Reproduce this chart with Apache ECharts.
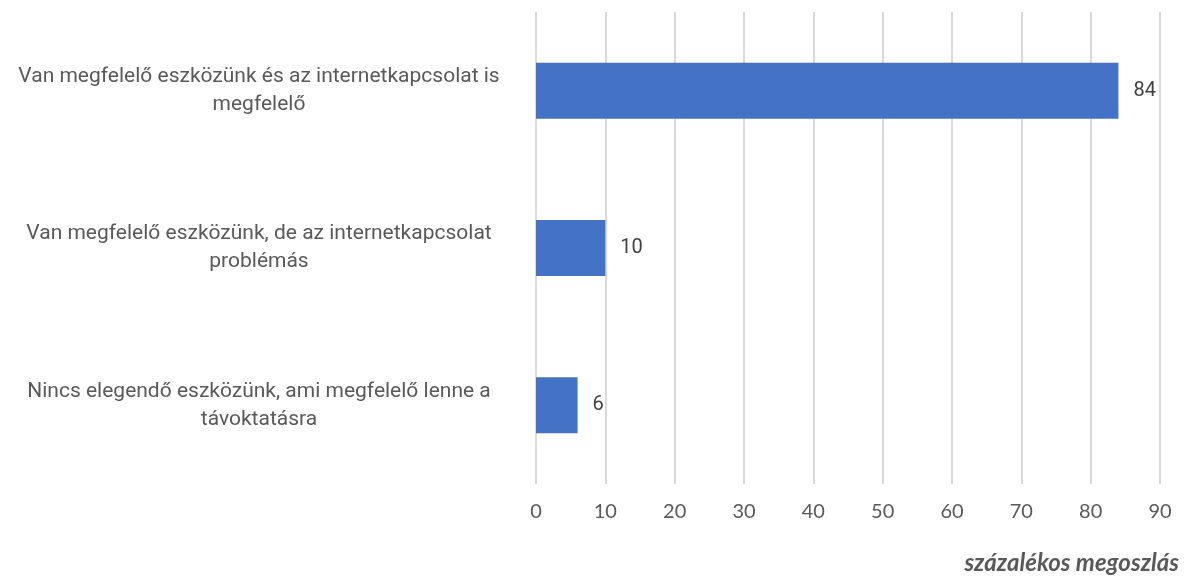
<!DOCTYPE html>
<html>
<head>
<meta charset="utf-8">
<script src="https://cdn.jsdelivr.net/npm/echarts@6/dist/echarts.min.js"></script>
<style>
  html, body { margin: 0; padding: 0; background: #fff; }
  #chart { width: 1192px; height: 584px; }
</style>
</head>
<body>
<div id="chart"></div>
<script>
// categories, top to bottom
var categories = [
  "Van megfelelő eszközünk és az internetkapcsolat is\nmegfelelő",
  "Van megfelelő eszközünk, de az internetkapcsolat\nproblémás",
  "Nincs elegendő eszközünk, ami megfelelő lenne a\ntávoktatásra"
];
var shares = [84, 10, 6];
var axisTitle = "százalékos megoszlás";

var chart = echarts.init(document.getElementById("chart"));

var option = {
  animation: false,
  title: {
    text: axisTitle,
    right: 8,
    bottom: 4,
    textStyle: {
      fontFamily: "Lato",
      fontStyle: "italic",
      fontWeight: "bold",
      fontSize: 24,
      color: "#595959"
    }
  },
  grid: {
    left: 536,
    right: 32,
    top: 12,
    bottom: 100
  },
  xAxis: {
    type: "value",
    min: 0,
    max: 90,
    interval: 10,
    axisLine: { show: false },
    axisTick: { show: false },
    splitLine: { lineStyle: { color: "#d9d9d9", width: 2 } },
    axisLabel: {
      margin: 18,
      fontFamily: "Lato",
      fontSize: 20,
      color: "#595959"
    }
  },
  yAxis: {
    type: "category",
    inverse: true,
    data: categories,
    axisLine: { show: false },
    axisTick: { show: false },
    axisLabel: {
      margin: 24,
      formatter: function (v) {
        return v.split("\n").map(function (s) { return "{c|" + s + "}"; }).join("\n");
      },
      rich: {
        c: {
          width: 506,
          align: "center",
          fontFamily: "Roboto",
          fontSize: 21,
          lineHeight: 28,
          color: "#595959"
        }
      }
    }
  },
  series: [
    {
      type: "bar",
      data: shares,
      barWidth: 56,
      itemStyle: { color: "#4472C4" },
      label: {
        show: true,
        position: "right",
        distance: 15,
        fontFamily: "Roboto",
        fontSize: 20,
        color: "#404040"
      }
    }
  ]
};

chart.setOption(option);
</script>
</body>
</html>
